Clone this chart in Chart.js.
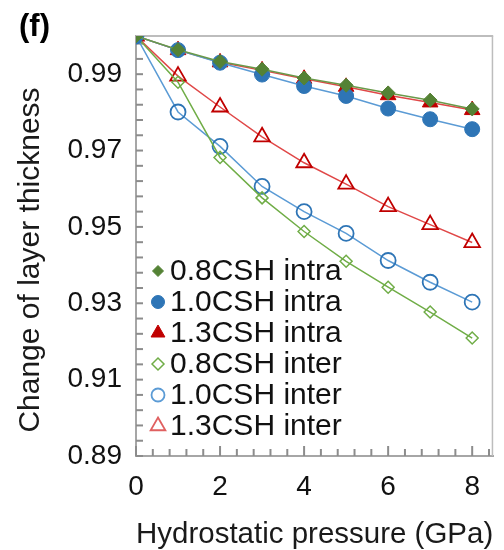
<!DOCTYPE html>
<html><head><meta charset="utf-8">
<script src="https://cdn.jsdelivr.net/npm/chart.js@4/dist/chart.umd.min.js"></script>
<style>html,body{margin:0;padding:0;background:#fff}#wrap{width:504px;height:550px;position:relative}</style>
</head><body><div id="wrap"><canvas id="c" width="504" height="550"></canvas></div>
<script>
const pressure = [0, 1, 2, 3, 4, 5, 6, 7, 8];
const csh08Intra = [1.0, 0.9964, 0.9933, 0.9913, 0.9890, 0.9871, 0.9851, 0.9832, 0.9809];
const csh10Intra = [1.0, 0.9963, 0.9930, 0.9899, 0.9869, 0.9843, 0.9810, 0.9782, 0.9756];
const csh13Intra = [1.0, 0.9963, 0.9931, 0.9910, 0.9888, 0.9867, 0.9845, 0.9826, 0.9806];
const csh08Inter = [1.0, 0.9879, 0.9682, 0.9576, 0.9488, 0.9410, 0.9342, 0.9277, 0.9209];
const csh10Inter = [1.0, 0.9801, 0.9711, 0.9606, 0.9540, 0.9483, 0.9412, 0.9355, 0.9303];
const csh13Inter = [1.0, 0.9895, 0.9814, 0.9736, 0.9668, 0.9612, 0.9553, 0.9506, 0.9459];
const seriesNames = ['0.8CSH intra', '1.0CSH intra', '1.3CSH intra', '0.8CSH inter', '1.0CSH inter', '1.3CSH inter'];
const xTickValues = [0, 2, 4, 6, 8];
const yTickValues = [0.89, 0.91, 0.93, 0.95, 0.97, 0.99];
const xAxisTitle = 'Hydrostatic pressure (GPa)';
const yAxisTitle = 'Change of layer thickness';
const panelLabel = '(f)';

const FONT = '"Liberation Sans", Arial, sans-serif';
const pts = (arr) => arr.map((v, i) => ({x: pressure[i], y: v}));

const styles = [
  {pointStyle: 'rectRot', radius: 7, fill: '#548235', stroke: '#548235', line: '#6a9a4a', bw: 1, lr: 5.5},
  {pointStyle: 'circle', radius: 7.5, fill: '#2e75b6', stroke: '#2e75b6', line: '#5b9bd5', bw: 1, lr: 6.5},
  {pointStyle: 'triangle', radius: 9, fill: '#c00000', stroke: '#c00000', line: '#e04848', bw: 1, lr: 8},
  {pointStyle: 'rectRot', radius: 6, fill: 'rgba(0,0,0,0)', stroke: '#70ad47', line: '#70ad47', bw: 1.5, lr: 6},
  {pointStyle: 'circle', radius: 7.5, fill: 'rgba(0,0,0,0)', stroke: '#2e75b6', line: '#5b9bd5', bw: 1.8, lr: 6.5},
  {pointStyle: 'triangle', radius: 9, fill: 'rgba(0,0,0,0)', stroke: '#c00000', line: '#e04848', bw: 1.8, lr: 8.5}
];
const seriesData = [csh08Intra, csh10Intra, csh13Intra, csh08Inter, csh10Inter, csh13Inter];
const legendStroke = ['#548235', '#2e75b6', '#c00000', '#70ad47', '#5b9bd5', '#e06060'];

const datasets = seriesData.map((d, i) => ({
  label: seriesNames[i],
  data: pts(d),
  pointStyle: styles[i].pointStyle,
  pointRadius: styles[i].radius,
  pointBackgroundColor: styles[i].fill,
  pointBorderColor: styles[i].stroke,
  pointBorderWidth: styles[i].bw,
  borderColor: styles[i].line,
  borderWidth: 1.5,
  backgroundColor: styles[i].fill,
  showLine: true,
  fill: false,
  tension: 0
}));

const framePlugin = {
  id: 'frame',
  beforeDatasetsDraw(chart) {
    const {ctx, chartArea: a, scales: {x, y}} = chart;
    ctx.save();
    ctx.strokeStyle = '#bdbdbd';
    ctx.lineWidth = 2;
    ctx.beginPath(); ctx.moveTo(a.left, a.top); ctx.lineTo(a.right, a.top); ctx.stroke();
    ctx.lineWidth = 1.5;
    ctx.beginPath(); ctx.moveTo(a.right - 0.75, a.top); ctx.lineTo(a.right - 0.75, a.bottom); ctx.stroke();
    ctx.strokeStyle = '#8c8c8c';
    ctx.lineWidth = 2;
    for (let i = 0; i <= 27; i++) {
      const py = y.getPixelForValue(0.89 + i * 0.004);
      if (py < a.top + 1) continue;
      ctx.beginPath(); ctx.moveTo(a.left, py); ctx.lineTo(a.left + 7, py); ctx.stroke();
    }
    for (let i = 0; i <= 21; i++) {
      const px = x.getPixelForValue(i * 0.4);
      if (px > a.right - 1) continue;
      const len = (i % 5 === 0) ? 10 : 7;
      ctx.beginPath(); ctx.moveTo(px, a.bottom); ctx.lineTo(px, a.bottom - len); ctx.stroke();
    }
    ctx.restore();
  },
  afterDraw(chart) {
    const {ctx} = chart;
    ctx.save();
    ctx.fillStyle = '#000';
    ctx.font = 'bold 31px ' + FONT;
    ctx.textAlign = 'left';
    ctx.textBaseline = 'middle';
    ctx.fillText(panelLabel, 19, 27);
    ctx.save();
    ctx.translate(31, 260);
    ctx.rotate(-Math.PI / 2);
    ctx.font = '30px ' + FONT;
    ctx.textAlign = 'center';
    ctx.textBaseline = 'middle';
    ctx.fillStyle = '#1a1a1a';
    ctx.fillText(yAxisTitle, 0, 0);
    ctx.restore();
    const rowY0 = 271, rowStep = 31, markerX = 158, textX = 170;
    chart.data.datasets.forEach((ds, i) => {
      const cy = rowY0 + i * rowStep;
      ctx.fillStyle = styles[i].fill;
      ctx.strokeStyle = legendStroke[i];
      ctx.lineWidth = styles[i].bw;
      Chart.helpers.drawPoint(ctx, {pointStyle: styles[i].pointStyle, radius: styles[i].lr, borderWidth: styles[i].bw, rotation: 0}, markerX, cy);
      ctx.fillStyle = '#111';
      ctx.font = '30px ' + FONT;
      ctx.textAlign = 'left';
      ctx.textBaseline = 'middle';
      ctx.fillText(ds.label, textX, cy + 1);
    });
    ctx.restore();
  }
};

new Chart(document.getElementById('c'), {
  type: 'scatter',
  data: {datasets},
  options: {
    responsive: false,
    animation: false,
    devicePixelRatio: 1,
    layout: {padding: {top: 36, right: 1, bottom: 0, left: 0}},
    plugins: {legend: {display: false}, tooltip: {enabled: false}, title: {display: false}},
    scales: {
      x: {
        type: 'linear', min: 0, max: 8.5,
        afterBuildTicks: (s) => { s.ticks = xTickValues.map(v => ({value: v})); },
        afterFit: (s) => { s.height = 94; },
        grid: {display: false, drawTicks: false},
        border: {display: true, color: '#a6a6a6', width: 2},
        ticks: {color: '#111', font: {family: FONT, size: 28}, padding: 14, maxRotation: 0, autoSkip: false,
                callback: (v) => String(v)},
        title: {display: true, text: xAxisTitle, color: '#1a1a1a', font: {family: FONT, size: 30, lineHeight: 1.05}, padding: {top: 0, bottom: 0}}
      },
      y: {
        type: 'linear', min: 0.89, max: 1.0,
        afterBuildTicks: (s) => { s.ticks = yTickValues.map(v => ({value: v})); },
        afterFit: (s) => { s.width = 136; },
        grid: {display: false, drawTicks: false},
        border: {display: true, color: '#a6a6a6', width: 2},
        ticks: {color: '#111', font: {family: FONT, size: 28}, padding: 14, autoSkip: false,
                callback: (v) => Number(v).toFixed(2)}
      }
    }
  },
  plugins: [framePlugin]
});
</script></body></html>
